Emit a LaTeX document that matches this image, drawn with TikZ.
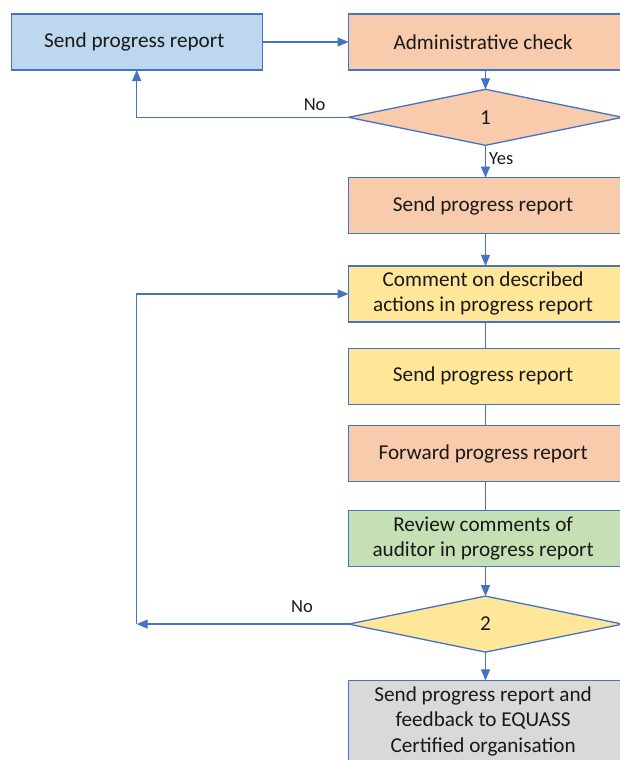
\documentclass[tikz,border=0pt]{standalone}
\usepackage{fontspec}
\setmainfont{Carlito}
\usepackage{xcolor}
\usepackage{tikz}
\usetikzlibrary{matrix,arrows.meta,shapes.geometric}

\definecolor{flowline}{HTML}{4472C4}
\definecolor{fillblue}{HTML}{BDD7EE}
\definecolor{fillorange}{HTML}{F8CBAD}
\definecolor{fillyellow}{HTML}{FFE699}
\definecolor{fillgreen}{HTML}{C5E0B4}
\definecolor{fillgrey}{HTML}{D9D9D9}
% stacked lines inside one matrix cell
\newcommand\cellrows[1]{\begin{tabular}{@{}c@{}}#1\end{tabular}}

\begin{document}
\begin{tikzpicture}[
	x=1pt, y=1pt,
	box/.style={
		draw=flowline, line width=1.3pt, minimum width=274pt,
		minimum height=56pt, inner sep=2pt, align=center
	},
	decision/.style={
		diamond, draw=flowline, line width=1.3pt, minimum width=274pt,
		minimum height=56pt, inner sep=0pt, aspect=4.9
	},
	flow/.style={draw=flowline, line width=1.3pt},
	lbl/.style={font=\fontsize{18.5}{22}\selectfont, text=black!90, inner sep=2pt},
	>={Triangle[length=11pt,width=9pt]}
]
\useasboundingbox (0,0) rectangle (620,-760);
\matrix (M) at (348.5,-14)
[
	matrix of nodes,
	column sep=85pt,
	row sep=18pt,
	matrix anchor=adm.north west,
	nodes= {
		font=\fontsize{21.2}{25.5}\selectfont, text=black!90,
		outer sep=0pt, anchor=center
	}
] {
|[box, fill=fillblue, minimum width=251pt] (org)| Send progress report
	& |[box, fill=fillorange] (adm)| Administrative check \\
 & |[decision, fill=fillorange] (d1)| 1 \\[13pt]
 & |[box, fill=fillorange] (sendA)| Send progress report \\[13pt]
 & |[box, fill=fillyellow] (cmt)| \cellrows{Comment on described\\actions in progress report} \\[7pt]
 & |[box, fill=fillyellow] (sendB)| Send progress report \\[2pt]
 & |[box, fill=fillorange] (fwd)| Forward progress report \\[10pt]
 & |[box, fill=fillgreen] (rev)| \cellrows{Review comments of\\auditor in progress report} \\[10pt]
 & |[decision, fill=fillyellow] (d2)| 2 \\[9pt]
 & |[box, fill=fillgrey, inner sep=3pt] (final)| \cellrows{Send progress report and\\feedback to EQUASS\\Certified organisation} \\
};

\draw[flow, ->] (org) -- (adm);
\foreach \a/\b in {adm/d1, sendA/cmt, rev/d2, d2/final} {
	\draw[flow, ->] (\a) -- (\b);
}
\foreach \a/\b in {cmt/sendB, sendB/fwd, fwd/rev} {
	\draw[flow] (\a) -- (\b);
}
\draw[flow, ->] (d1) -- node[lbl, right=1pt, pos=.42] {Yes} (sendA);
\draw[flow, ->] (d1.west) -| node[lbl, above=4pt, pos=.08] {No} (org.south);

% loop back from the second check
\coordinate (back) at (org.south |- d2.west);
\draw[flow, ->] (d2.west) -- node[lbl, above=9pt, pos=.22] {No} (back);
\draw[flow, ->] (back) |- (cmt.west);
\end{tikzpicture}
\end{document}
